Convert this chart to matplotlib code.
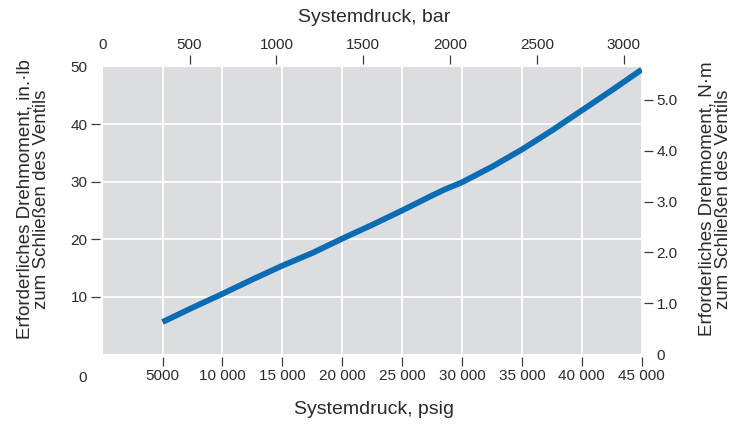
import matplotlib
matplotlib.use("Agg")
import matplotlib.pyplot as plt

plt.rcParams['font.family'] = ['Liberation Sans', 'DejaVu Sans']

# ---- data ----
psig = [5000, 7500, 10000, 12500, 15000, 17500, 20000, 22500, 25000, 27500,
        28500, 30000, 32500, 35000, 37500, 40000, 42500, 45000]
torque_inlb = [5.6, 8.1, 10.5, 13.0, 15.4, 17.6, 20.1, 22.5, 25.0, 27.6,
               28.6, 29.9, 32.6, 35.6, 38.9, 42.4, 45.9, 49.5]

psig_ticks = [5000, 10000, 15000, 20000, 25000, 30000, 35000, 40000, 45000]
psig_labels = ['5000', '10 000', '15 000', '20 000', '25 000', '30 000',
               '35 000', '40 000', '45 000']
inlb_ticks = [10, 20, 30, 40]
bar_ticks = [500, 1000, 1500, 2000, 2500, 3000]
nm_ticks = [1.0, 2.0, 3.0, 4.0, 5.0]
nm_labels = ['1.0', '2.0', '3.0', '4.0', '5.0']

PSI_PER_BAR = 14.5038
INLB_PER_NM = 8.8507

TXT = '#2a2a2a'
TICKC = '#3a3a3a'
BG = '#dcdde0'
LINE = '#0a6db3'

fig = plt.figure(figsize=(7.45, 4.24), dpi=100)
ax = fig.add_axes([0.1378, 0.1646, 0.7235, 0.678])
ax.set_facecolor(BG)
ax.plot(psig, torque_inlb, color=LINE, lw=4.2, solid_capstyle='butt',
        solid_joinstyle='round', zorder=3)
ax.set_xlim(0, 45000)
ax.set_ylim(0, 50)

ax.set_xticks(psig_ticks, psig_labels)
ax.set_yticks(inlb_ticks)
ax.set_yticks([50], minor=True)
ax.set_yticklabels(['50'], minor=True)
ax.set_xticks([], minor=True)
ax.grid(True, which='major', color='white', lw=1.3)
ax.set_axisbelow(True)

tl = 6.2
pad = 2.6
off = 2.0
FS = 11
ax.tick_params(which='major', length=tl, width=0.9, color=TICKC, pad=pad,
               labelsize=FS, labelcolor=TXT)
ax.tick_params(which='minor', length=0, pad=tl + pad, labelsize=FS,
               labelcolor=TXT)
for s in ax.spines.values():
    s.set_visible(False)
ax.spines['left'].set_position(('outward', off))
ax.spines['bottom'].set_position(('outward', off))

# right axis: N·m
ax2 = ax.twinx()
ax2.set_ylim(0, 50 / INLB_PER_NM)
ax2.set_yticks(nm_ticks, nm_labels)
ax2.set_yticks([0], minor=True)
ax2.set_yticklabels(['0'], minor=True)
ax2.tick_params(which='major', length=tl, width=0.9, color=TICKC, pad=pad,
                labelsize=FS, labelcolor=TXT)
ax2.tick_params(which='minor', length=0, pad=tl + pad, labelsize=FS,
                labelcolor=TXT)
for s in ax2.spines.values():
    s.set_visible(False)
ax2.spines['right'].set_position(('outward', off))

# top axis: bar
ax3 = ax.twiny()
ax3.set_xlim(0, 45000 / PSI_PER_BAR)
ax3.set_xticks(bar_ticks)
ax3.set_xticks([0], minor=True)
ax3.set_xticklabels(['0'], minor=True)
ax3.tick_params(which='major', length=tl, width=0.9, color=TICKC, pad=pad,
                labelsize=FS, labelcolor=TXT)
ax3.tick_params(which='minor', length=0, pad=tl + pad, labelsize=FS,
                labelcolor=TXT)
for s in ax3.spines.values():
    s.set_visible(False)
ax3.spines['top'].set_position(('outward', off))

W, H = 745, 424
fig.text(83 / W, 1 - 378 / H, '0', ha='center', va='center', fontsize=FS,
         color=TXT)

LFS = 14
YFS = 13.5
fig.text(374 / W, 1 - 410 / H, 'Systemdruck, psig', ha='center', va='center',
         fontsize=LFS, color=TXT)
fig.text(374 / W, 1 - 18 / H, 'Systemdruck, bar', ha='center', va='center',
         fontsize=LFS, color=TXT)
fig.text(33 / W, 1 - 199 / H,
         'Erforderliches Drehmoment, in.·lb\nzum Schließen des Ventils',
         rotation=90, ha='center', va='center', multialignment='center',
         fontsize=YFS, color=TXT, linespacing=0.95)
fig.text(715 / W, 1 - 199 / H,
         'Erforderliches Drehmoment, N·m\nzum Schließen des Ventils',
         rotation=90, ha='center', va='center', multialignment='center',
         fontsize=YFS, color=TXT, linespacing=0.95)

fig.savefig('out.png', dpi=100)
